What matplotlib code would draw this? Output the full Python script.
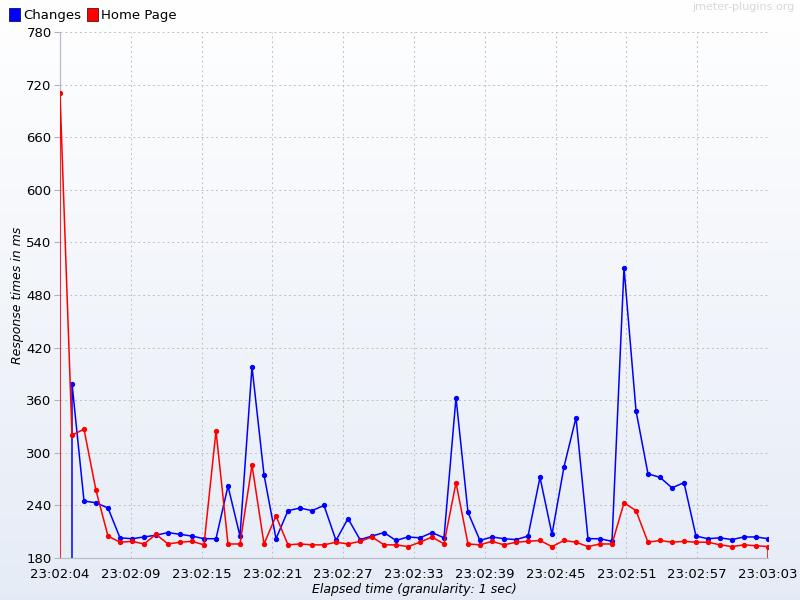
import numpy as np
import matplotlib.pyplot as plt
from matplotlib.patches import Rectangle

# seconds after 23:02:04 ; a 0 value marks where a series starts / ends
changes_t = [1, 1, 2, 3, 4, 5, 6, 7, 8, 9, 10, 11, 12, 13, 14, 15, 16, 17, 18, 19,
             20, 21, 22, 23, 24, 25, 26, 27, 28, 29, 30, 31, 32, 33, 34, 35, 36, 37, 38, 39,
             40, 41, 42, 43, 44, 45, 46, 47, 48, 49, 50, 51, 52, 53, 54, 55, 56, 57, 58, 59]
changes_ms = [0, 379, 245, 243, 237, 203, 202, 204, 206, 209, 207, 205, 202, 202, 262, 205, 398, 275, 202, 234,
              237, 234, 240, 200, 225, 201, 205, 209, 200, 204, 203, 209, 203, 363, 232, 200, 204, 202, 201, 205,
              272, 207, 284, 340, 202, 202, 199, 511, 348, 276, 272, 260, 266, 205, 202, 203, 201, 204, 204, 202]

home_t = [0, 0, 1, 2, 3, 4, 5, 6, 7, 8, 9, 10, 11, 12, 13, 14, 15, 16, 17, 18, 19,
          20, 21, 22, 23, 24, 25, 26, 27, 28, 29, 30, 31, 32, 33, 34, 35, 36, 37, 38, 39,
          40, 41, 42, 43, 44, 45, 46, 47, 48, 49, 50, 51, 52, 53, 54, 55, 56, 57, 58, 59, 59]
home_ms = [0, 710, 320, 327, 257, 205, 198, 199, 196, 207, 196, 198, 199, 195, 325, 196, 196, 286, 196, 228, 195,
           196, 195, 195, 198, 196, 199, 204, 195, 195, 193, 198, 204, 196, 266, 196, 195, 199, 195, 198, 199,
           200, 193, 200, 198, 193, 196, 196, 243, 234, 198, 200, 198, 199, 198, 198, 195, 193, 195, 194, 193, 0]

tick_labels = ['23:02:04', '23:02:09', '23:02:15', '23:02:21', '23:02:27', '23:02:33',
               '23:02:39', '23:02:45', '23:02:51', '23:02:57', '23:03:03']

fig = plt.figure(figsize=(8, 6), dpi=100)

# background gradient, white at top to pale blue at bottom
bg = fig.add_axes([0, 0, 1, 1], zorder=-10)
grad = np.linspace(0, 1, 256).reshape(-1, 1)
top_c = np.array([1.0, 1.0, 1.0])
bot_c = np.array([0.90, 0.925, 0.965])
img = top_c + (bot_c - top_c) * grad[:, :, None]
bg.imshow(img, aspect='auto', extent=[0, 1, 0, 1], origin='upper')
bg.axis('off')

ax = fig.add_axes([0.075, 0.07, 0.885, 0.8767])
ax.patch.set_alpha(0)

ax.plot(changes_t, changes_ms, color='#0000ff', lw=1.1, marker='o', ms=2.8, zorder=3)
ax.plot(home_t, home_ms, color='#ff0000', lw=1.1, marker='o', ms=2.8, zorder=3)

ax.set_xlim(0, 59)
ax.set_ylim(180, 780)
ax.set_yticks(np.arange(180, 781, 60))
ax.set_xticks(np.linspace(0, 59, 11))
ax.set_xticklabels(tick_labels)
ax.tick_params(axis='both', labelsize=9.5, colors='#b0b4bc', labelcolor='black', length=4, width=0.8)
ax.tick_params(axis='y', pad=2)
ax.tick_params(axis='x', length=0, pad=7)
ax.grid(True, color='#c0c0c0', ls=(0, (2, 3)), lw=0.7)

for s in ['top', 'right']:
    ax.spines[s].set_visible(False)
for s in ['left', 'bottom']:
    ax.spines[s].set_color('#b8bcc6')
    ax.spines[s].set_linewidth(0.9)

ax.set_xlabel('Elapsed time (granularity: 1 sec)', style='italic', fontsize=9, labelpad=2)
ax.set_ylabel('Response times in ms', style='italic', fontsize=9, labelpad=2)

# legend at top left
fig.patches.append(Rectangle((9 / 800, 1 - 21 / 600), 11 / 800, 13 / 600, transform=fig.transFigure,
                             facecolor='#0000ff', edgecolor='#222266', lw=0.7))
fig.text(23 / 800, 1 - 15 / 600, 'Changes', fontsize=9.5, va='center')
fig.patches.append(Rectangle((87 / 800, 1 - 21 / 600), 11 / 800, 13 / 600, transform=fig.transFigure,
                             facecolor='#ff0000', edgecolor='#662222', lw=0.7))
fig.text(101 / 800, 1 - 15 / 600, 'Home Page', fontsize=9.5, va='center')

fig.text(795 / 800, 1 - 7 / 600, 'jmeter-plugins.org', fontsize=8, color='#d8d8dc', ha='right', va='center')

fig.savefig('out.png', dpi=100)
